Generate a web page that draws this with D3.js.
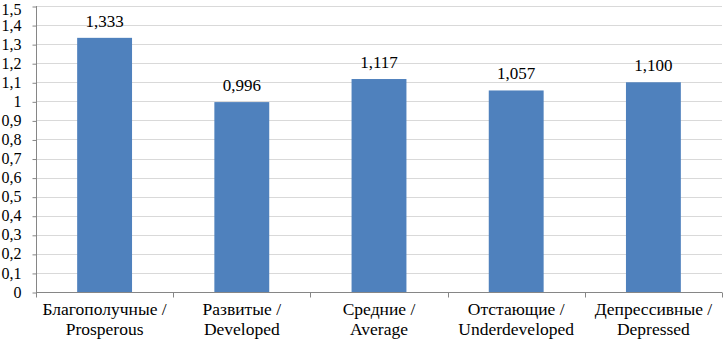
<!DOCTYPE html>
<html><head><meta charset="utf-8">
<script src="https://cdn.jsdelivr.net/npm/d3@7"></script>
<style>body{margin:0;background:#fff}svg{display:block}</style>
</head><body><svg id="c" width="723" height="344" font-family="Liberation Serif"></svg>
<script>
const categoriesRu = ["Благополучные /","Развитые /","Средние /","Отстающие /","Депрессивные /"];
const categoriesEn = ["Prosperous","Developed","Average","Underdeveloped","Depressed"];
const values = [1.333,0.996,1.117,1.057,1.100];
const valueLabels = ["1,333","0,996","1,117","1,057","1,100"];
const yTicks = [0,0.1,0.2,0.3,0.4,0.5,0.6,0.7,0.8,0.9,1,1.1,1.2,1.3,1.4,1.5];

const FONT = "Liberation Serif";
const svg = d3.select("#c");
const L=36, R=722, T=6, B=292;
const x = d3.scaleBand().domain(d3.range(values.length)).range([L,R]).paddingInner(0.6).paddingOuter(0.3);
const xb = d3.scaleBand().domain(d3.range(values.length)).range([L,R]);
const y = d3.scaleLinear().domain([0,1.5]).range([B,T]);
const fmt = v => String(Math.round(v*10)/10).replace(".",",");

// gridlines
svg.append("g").selectAll("line").data(yTicks.filter(d=>d>0)).join("line")
  .attr("x1",L).attr("x2",R).attr("y1",d=>Math.round(y(d))+0.5).attr("y2",d=>Math.round(y(d))+0.5)
  .attr("stroke","#d9d9d9").attr("stroke-width",1);

// y axis
const ya = svg.append("g").attr("transform",`translate(${L+0.5},0)`)
  .call(d3.axisLeft(y).tickValues(yTicks).tickFormat(fmt).tickSize(4).tickPadding(11));
ya.attr("font-family", FONT).attr("font-size",16);
ya.selectAll("line").attr("stroke","#868686").attr("transform","translate(0,0.5)");
ya.select(".domain").attr("stroke","#868686").attr("d",`M0,${T}V${B}`);
ya.selectAll("text").attr("font-family",FONT).attr("font-size",16).attr("fill","#000");
ya.selectAll(".tick").filter(d=>d===1.5).select("text").attr("y",3);

// bars
svg.append("g").selectAll("rect").data(values).join("rect")
  .attr("x",(d,i)=>x(i)).attr("width",x.bandwidth())
  .attr("y",d=>y(d)).attr("height",d=>y(0)-y(d))
  .attr("fill","#4f81bd");

// x axis
const xa = svg.append("g").attr("transform",`translate(0,${B+0.5})`);
xa.append("line").attr("x1",L).attr("x2",R).attr("stroke","#868686");
xa.selectAll(".tk").data(d3.range(values.length+1)).join("line").attr("class","tk")
  .attr("x1",i=>Math.round(i<values.length?xb(i):R)+0.5).attr("x2",i=>Math.round(i<values.length?xb(i):R)+0.5)
  .attr("y1",0).attr("y2",5).attr("stroke","#868686");

// category labels (two lines each)
const cx = i => xb(i)+xb.bandwidth()/2;
const cg = svg.append("g").attr("font-family",FONT).attr("font-size",17.5).attr("text-anchor","middle");
cg.selectAll(".ru").data(d3.range(values.length)).join("text").attr("class","ru")
  .attr("x",cx).attr("y",315).attr("fill","#000").text(i=>categoriesRu[i]);
cg.selectAll(".en").data(d3.range(values.length)).join("text").attr("class","en")
  .attr("x",cx).attr("y",335).attr("fill","#000").text(i=>categoriesEn[i]);

// value labels
svg.append("g").selectAll("text").data(values).join("text")
  .attr("text-anchor","middle").attr("font-size",17).attr("font-family",FONT).attr("fill","#000")
  .attr("x",(d,i)=>x(i)+x.bandwidth()/2).attr("y",d=>y(d)-11)
  .text((d,i)=>valueLabels[i]);
</script></body></html>
